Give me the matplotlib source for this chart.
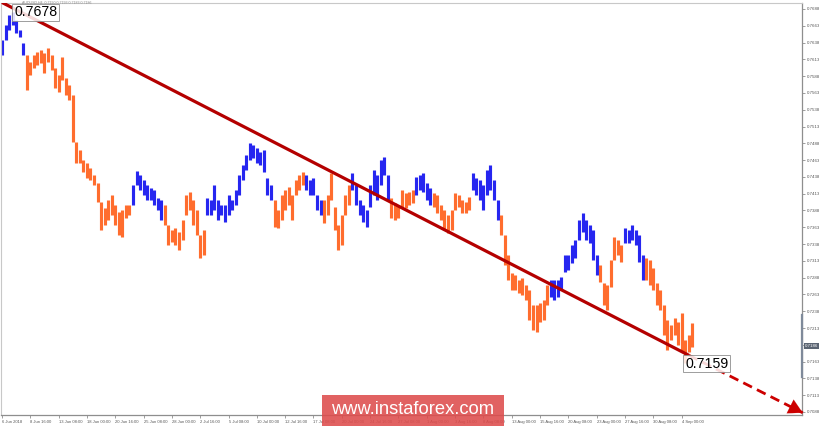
import matplotlib
matplotlib.use("Agg")
import matplotlib.pyplot as plt
from matplotlib.patches import Rectangle

# ---------------- data (AUDUSD H4, one sample = 2 bars) ----------------
highs = [
    .7642, .7664, .7679, .7684, .7672, .7657, .7637, .7620, .7609, .7620,
    .7624, .7627, .7622, .7630, .7620, .7600, .7590, .7617, .7585, .7575,
    .7560, .7490, .7478, .7463, .7459, .7451, .7441, .7429, .7400, .7392,
    .7404, .7411, .7396, .7386, .7389, .7396, .7396, .7426, .7447, .7441,
    .7433, .7426, .7422, .7419, .7407, .7404, .7396, .7366, .7359, .7362,
    .7356, .7374, .7411, .7416, .7404, .7389, .7352, .7359, .7407, .7404,
    .7426, .7404, .7396, .7396, .7411, .7404, .7419, .7441, .7456, .7471,
    .7488, .7485, .7481, .7475, .7478, .7437, .7426, .7404, .7389, .7411,
    .7419, .7423, .7411, .7433, .7441, .7445, .7441, .7433, .7437, .7411,
    .7404, .7404, .7411, .7444, .7393, .7366, .7381, .7411, .7426, .7444,
    .7426, .7404, .7396, .7389, .7426, .7448, .7441, .7463, .7468, .7441,
    .7407, .7399, .7396, .7419, .7414, .7416, .7419, .7438, .7441, .7444,
    .7429, .7422, .7414, .7411, .7396, .7389, .7381, .7389, .7414, .7411,
    .7404, .7401, .7408, .7444, .7437, .7433, .7426, .7448, .7456, .7433,
    .7404, .7381, .7352, .7322, .7295, .7292, .7285, .7288, .7277, .7270,
    .7247, .7247, .7250, .7255, .7277, .7285, .7285, .7285, .7289, .7322,
    .7322, .7337, .7344, .7374, .7384, .7374, .7366, .7359, .7322, .7307,
    .7280, .7277, .7314, .7349, .7344, .7337, .7362, .7359, .7366, .7359,
    .7352, .7322, .7317, .7314, .7302, .7280, .7270, .7247, .7225, .7218,
    .7228, .7222, .7235, .7195, .7203, .7221,
]
lows = [
    .7620, .7642, .7657, .7664, .7652, .7646, .7620, .7567, .7590, .7600,
    .7605, .7608, .7593, .7609, .7597, .7570, .7564, .7582, .7560, .7553,
    .7490, .7459, .7459, .7445, .7437, .7433, .7426, .7400, .7359, .7366,
    .7374, .7381, .7366, .7352, .7349, .7377, .7381, .7396, .7426, .7419,
    .7411, .7404, .7404, .7396, .7389, .7374, .7366, .7337, .7341, .7337,
    .7329, .7344, .7381, .7389, .7366, .7352, .7317, .7322, .7381, .7381,
    .7389, .7374, .7381, .7371, .7381, .7389, .7396, .7411, .7433, .7448,
    .7463, .7466, .7459, .7456, .7445, .7411, .7404, .7363, .7362, .7374,
    .7389, .7396, .7374, .7411, .7419, .7426, .7419, .7411, .7411, .7389,
    .7381, .7369, .7381, .7404, .7359, .7329, .7337, .7381, .7396, .7419,
    .7396, .7381, .7371, .7363, .7393, .7411, .7404, .7426, .7441, .7404,
    .7377, .7374, .7377, .7393, .7392, .7396, .7399, .7411, .7419, .7416,
    .7404, .7396, .7393, .7384, .7374, .7359, .7355, .7359, .7389, .7393,
    .7384, .7384, .7389, .7419, .7411, .7404, .7389, .7411, .7419, .7404,
    .7374, .7352, .7307, .7285, .7270, .7270, .7265, .7262, .7255, .7225,
    .7210, .7207, .7222, .7225, .7247, .7259, .7255, .7259, .7270, .7297,
    .7300, .7310, .7317, .7344, .7356, .7344, .7340, .7314, .7292, .7282,
    .7247, .7240, .7274, .7314, .7322, .7311, .7340, .7340, .7344, .7337,
    .7311, .7285, .7285, .7277, .7270, .7247, .7240, .7203, .7180, .7195,
    .7203, .7188, .7177, .7161, .7177, .7185,
]
# first sample index of each wave, and wave direction
wave_starts = [0, 7, 37, 46, 58, 77, 86, 91, 99, 110, 117, 122, 133, 141, 155, 169, 176, 182]
wave_dirs = ["up", "down", "up", "down", "up", "down", "up", "down", "up",
             "down", "up", "down", "up", "down", "up", "down", "up", "down"]

price_ticks = [0.7688, 0.7663, 0.7638, 0.7613, 0.7588, 0.7563, 0.7538, 0.7513,
               0.7488, 0.7463, 0.7438, 0.7413, 0.7388, 0.7363, 0.7338, 0.7313,
               0.7288, 0.7263, 0.7238, 0.7213, 0.7188, 0.7163, 0.7138, 0.7113, 0.7088]
date_labels = ["6 Jun 2018", "8 Jun 16:00", "13 Jun 08:00", "18 Jun 00:00", "20 Jun 16:00",
               "25 Jun 08:00", "28 Jun 00:00", "2 Jul 16:00", "5 Jul 08:00", "10 Jul 00:00",
               "12 Jul 16:00", "17 Jul 08:00", "20 Jul 00:00", "24 Jul 16:00", "27 Jul 08:00",
               "1 Aug 00:00", "3 Aug 16:00", "8 Aug 08:00", "13 Aug 00:00", "15 Aug 16:00",
               "20 Aug 08:00", "23 Aug 00:00", "27 Aug 16:00", "30 Aug 08:00", "4 Sep 00:00"]
samples_per_label = 8

trend_x = [0, 194, 226.2]            # sample positions: start, end of solid part, arrow tip
trend_p = [0.76977, 0.71725, 0.70868]
high_label = "0.7678"
low_label = "0.7159"
last_price = 0.7186
header = "AUDUSD,H4  0.7190 0.7193 0.7183 0.7186"

# ---------------- styling ----------------
BLUE = "#2626f0"
ORANGE = "#ff6d2e"
RED = "#b40000"
W, H = 820, 426
FONT = "Liberation Sans"

fig = plt.figure(figsize=(W / 100, H / 100), dpi=100)
fig.patch.set_facecolor("white")
ax = fig.add_axes([1 / W, 11 / H, 801 / W, 412 / H])
ax.set_xlim(-0.28, 226.0)
ax.set_ylim(0.70835, 0.76969)

n = len(highs)
bounds = wave_starts + [n]
for i, d in enumerate(wave_dirs):
    a, b = bounds[i], bounds[i + 1]
    xs = list(range(a, b))
    ax.vlines(xs, lows[a:b], highs[a:b], color=BLUE if d == "up" else ORANGE,
              lw=2.25, zorder=2)

# trend line
ax.plot(trend_x[:2], trend_p[:2], color=RED, lw=2.3, solid_capstyle="butt", zorder=4)
ax.plot(trend_x[1:], trend_p[1:], color="#cc0000", lw=2.0, dashes=(3.5, 2.0), zorder=4,
        clip_on=False)
ax.annotate("", xy=(trend_x[2], trend_p[2]),
            xytext=(trend_x[2] - 4.5, trend_p[2] + 4.5 * (trend_p[1] - trend_p[2]) / (trend_x[2] - trend_x[1])),
            arrowprops=dict(arrowstyle="-|>,head_length=1.0,head_width=0.55",
                            color="#cc0000", lw=0.1, shrinkA=0, shrinkB=0),
            annotation_clip=False, zorder=5)

# extreme labels
i_hi = highs.index(max(highs))
i_lo = lows.index(min(lows))
bbox = dict(boxstyle="square,pad=0.12", fc="white", ec="#8c8c8c", lw=0.7, alpha=0.85)
ax.text(i_hi + 0.4, max(highs) - 0.0001, high_label, fontsize=10.2, family=FONT,
        ha="left", va="center", bbox=bbox, zorder=6, color="black")
ax.text(i_lo, min(lows) - 0.0001, low_label, fontsize=10.2, family=FONT,
        ha="left", va="center", bbox=bbox, zorder=6, color="black")

# axes / ticks
ax.yaxis.tick_right()
ax.set_yticks(price_ticks)
ax.set_yticklabels([f"{p:.4f}" for p in price_ticks], fontsize=3.2, family=FONT, color="#555555")
ax.tick_params(axis="y", length=2, width=0.5, colors="#777777", pad=1.2, labelcolor="#555555")
xt = [i * samples_per_label for i in range(len(date_labels))]
ax.set_xticks(xt)
ax.set_xticklabels(date_labels, fontsize=3.0, family=FONT, color="#555555", ha="left")
ax.tick_params(axis="x", length=2, width=0.5, colors="#777777", pad=1.5, labelcolor="#555555")
for s in ["left", "top"]:
    ax.spines[s].set_color("#c8c8c8")
    ax.spines[s].set_linewidth(0.8)
for s in ["right", "bottom"]:
    ax.spines[s].set_color("#8e8e8e")
    ax.spines[s].set_linewidth(0.9)

# scroll marker on the price scale
ax.plot([1.0, 1.0], [0.7232, 0.7140], transform=ax.get_yaxis_transform(), color="#7f8a9a",
        lw=1.6, clip_on=False, zorder=3)
# current price box
ax.text(1.004, last_price, f"{last_price:.4f}", transform=ax.get_yaxis_transform(),
        fontsize=3.2, family=FONT, color="white", ha="left", va="center",
        bbox=dict(boxstyle="square,pad=0.25", fc="#5a6472", ec="none"), zorder=7, clip_on=False)

# header (small, above the high label)
fig.text(22 / W, 1 - 2.2 / H, header, fontsize=2.6, family=FONT, color="#8a8a8a",
         ha="left", va="center")

# watermark
fig.patches.append(Rectangle((322 / W, 0), 182 / W, 31 / H, transform=fig.transFigure,
                             fc="#dd4c4c", ec="none", alpha=0.88, zorder=10))
fig.text(413 / W, 1 - 410 / H, "www.instaforex.com", fontsize=13.2, family=FONT,
         color="white", ha="center", va="center", zorder=11)

fig.savefig("out.png", dpi=100, facecolor="white")
